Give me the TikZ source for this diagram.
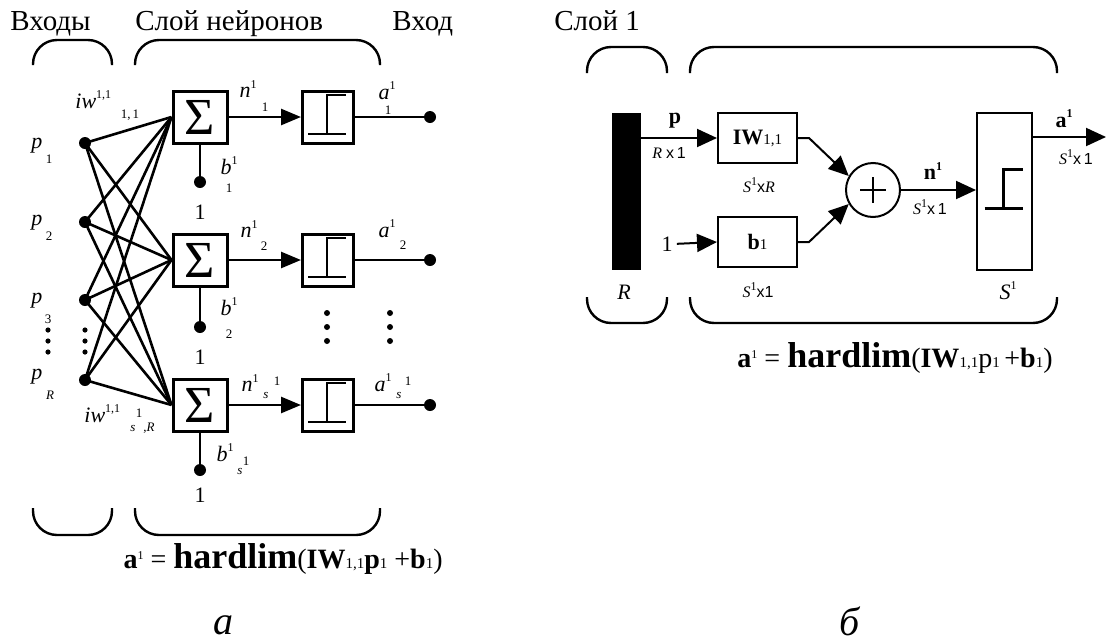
\documentclass[tikz,border=0pt]{standalone}
\usepackage{fontspec}
\setmainfont{Liberation Serif}
\newfontfamily\rkSans{Liberation Sans}
\usetikzlibrary{arrows.meta}
\newcommand\rkBig{\fontsize{14.5}{17}\selectfont}
\newcommand\rkLab{\fontsize{11}{13}\selectfont\itshape}
\newcommand\rkSub{\fontsize{6.5}{8}\selectfont}
\newcommand\rkDim{\fontsize{8}{10}\selectfont}
\newcommand\rkSup[1]{\raisebox{0.45em}{\fontsize{6}{7}\selectfont\upshape #1}}
\newcommand\rkF{\fontsize{14}{16}\selectfont}
\newcommand\rkFs{\fontsize{7.5}{9}\selectfont}
\tikzset{
  stepicon/.pic={\draw[line width=1.1pt] (-20,17) -- (18,17) (-1,17) -- (-1,-22) -- (18,-22);}
}
\begin{document}
\begin{tikzpicture}[x=0.5pt,y=-0.5pt,
  wire/.style={line width=1.3pt},
  inp/.style={circle,fill=black,inner sep=0pt,minimum size=6pt},
  sumbox/.style={draw,line width=1.5pt,minimum width=27pt,minimum height=26pt,inner sep=0pt,font=\fontsize{26}{26}\selectfont},
  stepbox/.style={draw,line width=1.5pt,minimum width=25.5pt,minimum height=26pt,inner sep=0pt},
  lab/.style={inner sep=0pt,font=\rkLab},
  sub/.style={inner sep=0pt,font=\rkSub},
  onetxt/.style={inner sep=0pt,font=\fontsize{11}{13}\selectfont},
  brace/.style={line width=1.2pt,rounded corners=12pt},
  arrL/.style={-{Triangle[length=10pt,width=8pt]}},
  rbox/.style={draw,line width=1pt,minimum width=39.5pt,minimum height=25pt,inner sep=0pt},
  arrR/.style={line width=1pt,-{Triangle[length=10pt,width=9pt]}},
  dimtxt/.style={inner sep=0pt,font=\rkDim},
  captxt/.style={inner sep=0pt,font=\fontsize{20}{22}\selectfont\itshape}
]
\path[use as bounding box] (0,0) rectangle (1109,643);

% ---------- titles ----------
\node[anchor=base west,inner sep=0pt,font=\rkBig] (tInputs) at (10,30) {Входы};
\node[anchor=base west,inner sep=0pt,font=\rkBig] (tLayer) at (135,30) {Слой нейронов};
\node[anchor=base west,inner sep=0pt,font=\rkBig] (tOut) at (392,30) {Вход};
\node[anchor=base west,inner sep=0pt,font=\rkBig] (tLayer1) at (554,30) {Слой 1};

% ---------- braces (left panel) ----------
\draw[brace] (33,65) -- (33,40) -- (112,40) -- (112,65);
\draw[brace] (135,65) -- (135,40) -- (380,40) -- (380,65);
\draw[brace] (33,508) -- (33,535) -- (112,535) -- (112,508);
\draw[brace] (135,508) -- (135,535) -- (380,535) -- (380,508);

% ---------- left panel ----------
\node[inp] (p1) at (85,143) {};
\node[inp] (p2) at (85,222) {};
\node[inp] (p3) at (85,300) {};
\node[inp] (pR) at (85,380) {};

\node[sumbox] (s1) at (200,117) {Σ};
\node[sumbox] (s2) at (200,260) {Σ};
\node[sumbox] (s3) at (200,405) {Σ};

\node[stepbox] (h1) at (328,117) {};
\node[stepbox] (h2) at (328,260) {};
\node[stepbox] (h3) at (328,405) {};
\pic at (h1) {stepicon};
\pic at (h2) {stepicon};
\pic at (h3) {stepicon};

\node[inp] (a1) at (430,117) {};
\node[inp] (a2) at (430,260) {};
\node[inp] (a3) at (430,405) {};

\node[inp] (c1) at (200,182) {};
\node[inp] (c2) at (200,327) {};
\node[inp] (c3) at (200,470) {};

\foreach \i in {p1,p2,p3,pR}
  \foreach \j in {s1,s2,s3}
    \draw[wire] (\i.center) -- (\j.west);
\foreach \j in {1,2,3} {
  \draw[wire,arrL] (s\j.east) -- (h\j.west);
  \draw[wire] (h\j.east) -- (a\j.center);
  \draw[wire] (s\j.south) -- (c\j.center);
}

% input labels
\node[lab] (lp1) at (37,146) {p};  \node[sub] (lp1s) at (49,159) {1};
\node[lab] (lp2) at (37,223) {p};  \node[sub] (lp2s) at (49,236) {2};
\node[lab] (lp3) at (37,301) {p};  \node[sub] (lp3s) at (48,319) {3};
\node[lab] (lpR) at (37,377) {p};  \node[sub] (lpRs) at (50,395) {\itshape R};
\foreach \y in {330,341,352} {\fill (48,\y) circle (1.3pt); \fill (85,\y) circle (1.3pt);}
\foreach \y in {313,327,341} {\fill (327,\y) circle (1.5pt); \fill (390,\y) circle (1.5pt);}

% weight labels
\node[lab,anchor=west] (iw1) at (75,100) {iw\rkSup{1,1}};
\node[sub] (iw1s) at (130,115) {1,\,1};
\node[lab,anchor=west] (iw3) at (84,414) {iw\rkSup{1,1}};
\node[sub] (iw3a) at (133,428) {\itshape s};
\node[sub] (iw3b) at (139,413) {1};
\node[sub] (iw3c) at (149,428) {,\itshape R};

% net input labels
\node[lab] (ln1) at (248,89) {n\rkSup{1}};   \node[sub] (ln1s) at (265,107) {1};
\node[lab] (ln2) at (249,229) {n\rkSup{1}};  \node[sub] (ln2s) at (264,246) {2};
\node[lab] (ln3) at (250,383) {n\rkSup{1}};  \node[sub] (ln3s) at (266,395) {\itshape s};
\node[sub] (ln3t) at (277,381) {1};
% output labels
\node[lab] (la1) at (387,91) {a\rkSup{1}};   \node[sub] (la1s) at (388,110) {1};
\node[lab] (la2) at (387,229) {a\rkSup{1}};  \node[sub] (la2s) at (403,245) {2};
\node[lab] (la3) at (383,383) {a\rkSup{1}};  \node[sub] (la3s) at (399,395) {\itshape s};
\node[sub] (la3t) at (408,381) {1};
% bias labels
\node[lab] (lb1) at (229,166) {b\rkSup{1}};  \node[sub] (lb1s) at (229,188) {1};
\node[lab] (lb2) at (229,307) {b\rkSup{1}};  \node[sub] (lb2s) at (229,334) {2};
\node[lab] (lb3) at (225,453) {b\rkSup{1}};  \node[sub] (lb3s) at (240,471) {\itshape s};
\node[sub] (lb3t) at (246,461) {1};
\node[onetxt] (o1) at (200,212) {1};
\node[onetxt] (o2) at (200,357) {1};
\node[onetxt] (o3) at (200,495) {1};

% formula (a)
\node[anchor=base east,inner sep=0pt] (fa) at (443,568)
 {{\rkF\bfseries a}\rkSup{1}{\rkF\ =\ }{\fontsize{18}{20}\selectfont\bfseries hardlim}{\rkF(\bfseries IW}{\rkFs 1,1}{\rkF\bfseries p}{\rkFs 1}{\rkF\ +}{\rkF\bfseries b}{\rkFs 1}{\rkF)}};
\node[captxt] (capa) at (223,625) {а};

% ---------- braces (right panel) ----------
\draw[brace] (587,73) -- (587,47) -- (667,47) -- (667,73);
\draw[brace] (690,73) -- (690,47) -- (1057,47) -- (1057,73);
\draw[brace] (587,297) -- (587,323) -- (667,323) -- (667,297);
\draw[brace] (690,297) -- (690,323) -- (1057,323) -- (1057,297);

% ---------- right panel ----------
\node[fill=black,minimum width=14.5pt,minimum height=78.5pt,inner sep=0pt] (bar) at (626.5,191.5) {};
\node[rbox] (IW) at (757.5,138) {{\fontsize{11}{13}\selectfont\bfseries IW}{\fontsize{7.5}{8}\selectfont 1,1}};
\node[rbox] (bb) at (757.5,242) {{\fontsize{11}{13}\selectfont\bfseries b}{\fontsize{7.5}{8}\selectfont 1}};
\node[draw,circle,line width=1pt,minimum size=27pt,inner sep=0pt] (sum) at (873,190) {};
\draw[line width=1.2pt] ([xshift=-6.3pt]sum.center) -- ([xshift=6.3pt]sum.center)
                        ([yshift=-6.3pt]sum.center) -- ([yshift=6.3pt]sum.center);
\node[draw,line width=1pt,minimum width=27.5pt,minimum height=78.5pt,inner sep=0pt] (hs) at (1004.5,191.5) {};
\pic at (hs) {stepicon};
\node[onetxt] (one) at (667,244) {1};
\coordinate (out) at (1106,137);

\draw[arrR] (bar.east |- IW.west) -- (IW.west);
\draw[arrR,shorten <=2pt] (one.east) -- (bb.west);
\draw[arrR] (IW.east) -- ++(11,0) -- (sum.150);
\draw[arrR] (bb.east) -- ++(11,0) -- (sum.210);
\draw[arrR] (sum.east) -- (sum.east -| hs.west);
\draw[arrR] (hs.east |- out) -- (out);

\node[inner sep=0pt,font=\fontsize{11}{13}\selectfont\bfseries] (lp) at (675,121) {p};
\node[dimtxt] (lpd) at (669,153) {\textit{R} {\rkSans x\,1}};
\node[dimtxt] (lIWd) at (759,185) {\textit{S}\rkSup{1}{\rkSans x}\textit{R}};
\node[dimtxt] (lbd) at (758,290) {\textit{S}\rkSup{1}{\rkSans x1}};
\node[inner sep=0pt,font=\fontsize{11}{13}\selectfont\itshape] (lR) at (624,292) {R};
\node[inner sep=0pt,font=\fontsize{11}{13}\selectfont\bfseries] (ln) at (933,171) {n\rkSup{1}};
\node[dimtxt] (lnd) at (930,207) {\textit{S}\rkSup{1}{\rkSans x\,1}};
\node[inner sep=0pt,font=\fontsize{11}{13}\selectfont\itshape] (lS) at (1008,291) {S\rkSup{1}};
\node[inner sep=0pt,font=\fontsize{11}{13}\selectfont\bfseries] (la) at (1064,119) {a\rkSup{1}};
\node[dimtxt] (lad) at (1076,157) {\textit{S}\rkSup{1}{\rkSans x\,1}};

% formula (b)
\node[anchor=base east,inner sep=0pt] (fb) at (1053,367)
 {{\rkF\bfseries a}\rkSup{1}{\rkF\ =\ }{\fontsize{18}{20}\selectfont\bfseries hardlim}{\rkF(\bfseries IW}{\rkFs 1,1}{\rkF p}{\rkFs 1}{\rkF\,+}{\rkF\bfseries b}{\rkFs 1}{\rkF)}};
\node[captxt] (capb) at (850,621) {б};
\end{tikzpicture}
\end{document}
